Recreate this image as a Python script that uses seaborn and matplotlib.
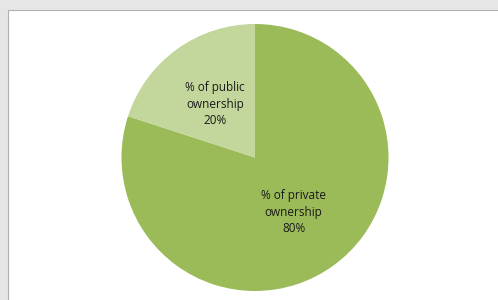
import seaborn as sns
import matplotlib.pyplot as plt
from matplotlib.patches import Rectangle

# Данные
categories = ['% of private\nownership', '% of public\nownership']
shares = [80, 20]
colors = ['#9bbb59', '#c3d69b']

sns.set_style('white')
plt.rcParams['font.family'] = ['Open Sans', 'DejaVu Sans']

fig = plt.figure(figsize=(4.98, 3.0), dpi=100)
fig.patch.set_facecolor('#e6e6e6')

# белая панель графика (под осями)
fig.add_artist(Rectangle((7.5 / 498, -0.01), 1, 290.5 / 300 + 0.01, transform=fig.transFigure,
                         facecolor='white', edgecolor='#b0b0b0', linewidth=0.8, zorder=-10))

ax = fig.add_axes([121.5 / 498, 9 / 300, 267 / 498, 267 / 300])
ax.set_zorder(1)
wedges, texts = ax.pie(shares, colors=colors, startangle=90, counterclock=False,
                       labels=[f'{c}\n{s}%' for c, s in zip(categories, shares)],
                       labeldistance=0.5, wedgeprops={'linewidth': 0},
                       textprops={'fontsize': 8.5, 'color': '#1a1a1a',
                                  'ha': 'center', 'va': 'center', 'linespacing': 1.35})
# подписи стоят как в Excel
texts[0].set_position((0.29, -0.41))
texts[1].set_position((-0.3, 0.4))
ax.set_xlim(-1, 1)
ax.set_ylim(-1, 1)
ax.axis('off')

fig.savefig('out.png', dpi=100, facecolor=fig.get_facecolor())
